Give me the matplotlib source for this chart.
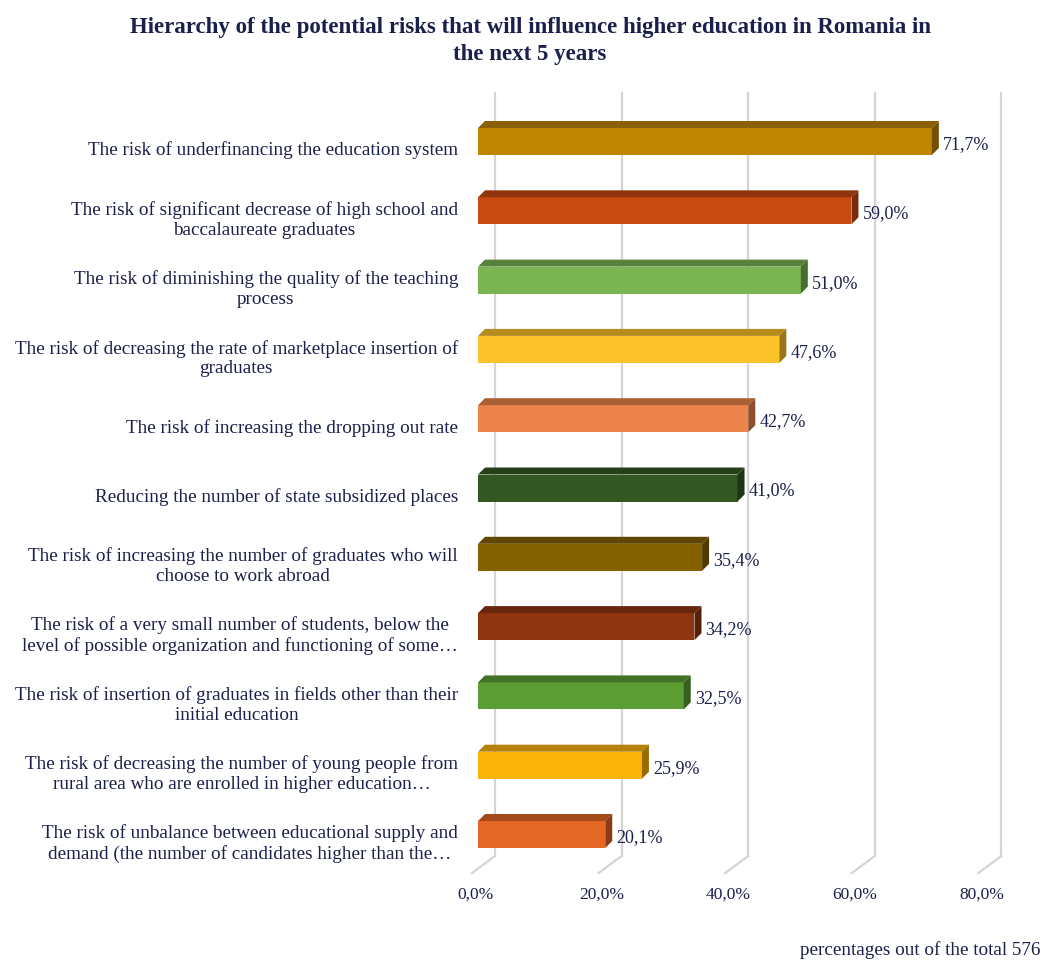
import matplotlib
matplotlib.use("Agg")
import matplotlib.pyplot as plt
from matplotlib.patches import Polygon
import numpy as np

categories = [
    "The risk of underfinancing the education system",
    "The risk of significant decrease of high school and\nbaccalaureate graduates",
    "The risk of diminishing the quality of the teaching\nprocess",
    "The risk of decreasing the rate of marketplace insertion of\ngraduates",
    "The risk of increasing the dropping out rate",
    "Reducing the number of state subsidized places",
    "The risk of increasing the number of graduates who will\nchoose to work abroad",
    "The risk of a very small number of students, below the\nlevel of possible organization and functioning of some\u2026",
    "The risk of insertion of graduates in fields other than their\ninitial education",
    "The risk of decreasing the number of young people from\nrural area who are enrolled in higher education\u2026",
    "The risk of unbalance between educational supply and\ndemand (the number of candidates higher than the\u2026",
]
values = [71.7, 59.0, 51.0, 47.6, 42.7, 41.0, 35.4, 34.2, 32.5, 25.9, 20.1]
colors = ["#C08503", "#C84A12", "#7AB552", "#FCC22A", "#EC844B", "#335722",
          "#866100", "#8F3610", "#5C9E34", "#FDB409", "#E56726"]
ticks = [0, 20, 40, 60, 80]
title = "Hierarchy of the potential risks that will influence higher education in Romania in\nthe next 5 years"
footnote = "percentages out of the total 576"

W, H = 1047, 964
fig = plt.figure(figsize=(W / 100, H / 100), dpi=100)

TXT = "#1b1f4b"
SERIF = ["Liberation Serif", "DejaVu Serif"]

# geometry in pixels
x0_px = 478.0
px_per_x = 6.33
c0_px = 141.5
px_per_y = 69.3
xmax = 83.0
ytop, ybot = -0.9, 10.9

left = x0_px / W
width = xmax * px_per_x / W
top_px = c0_px + ytop * px_per_y
bot_px = c0_px + ybot * px_per_y
ax = fig.add_axes([left, 1 - bot_px / H, width, (bot_px - top_px) / H])
ax.set_xlim(0, xmax)
ax.set_ylim(ybot, ytop)
ax.axis("off")

def dx(px):
    return px / px_per_x

def dy(px):
    return px / px_per_y

# back wall gridlines and floor lines
g_top = dy(93 - c0_px)
g_bot = dy(856 - c0_px)
f_front = dy(873 - c0_px)
for t in ticks:
    xb = t + dx(17)
    xf = t - dx(6)
    ax.plot([xb, xb], [g_top, g_bot], color="#d4d4d4", lw=1.6, clip_on=False, zorder=1)
    ax.plot([xb, xf], [g_bot, f_front], color="#d4d4d4", lw=1.6, clip_on=False, zorder=1)
    ax.text(t - dx(3), dy(895 - c0_px), f"{t:.1f}%".replace(".", ","),
            ha="center", va="center", fontsize=12.5, family=SERIF, color=TXT)

def shade(c, f):
    r, g, b = matplotlib.colors.to_rgb(c)
    return (r * f, g * f, b * f)

bh = dy(27)
DX, DY = dx(7), dy(7)
y = np.arange(len(values))
ax.barh(y, values, height=bh, color=colors, edgecolor="none", zorder=3)
for i, (v, c) in enumerate(zip(values, colors)):
    yt = i - bh / 2
    yb = i + bh / 2
    topf = Polygon([(0, yt), (v, yt), (v + DX, yt - DY), (DX, yt - DY)],
                   closed=True, facecolor=shade(c, 0.72), edgecolor="none", zorder=3)
    side = Polygon([(v, yt), (v + DX, yt - DY), (v + DX, yb - DY), (v, yb)],
                   closed=True, facecolor=shade(c, 0.6), edgecolor="none", zorder=3)
    ax.add_patch(topf)
    ax.add_patch(side)
    ax.text(v + DX + dx(4), i + dy(3), f"{v:.1f}%".replace(".", ","),
            ha="left", va="center", fontsize=13, family=SERIF, color=TXT)
    ax.text(dx(458 - x0_px), i + dy(9), categories[i], ha="right", va="center",
            multialignment="center", fontsize=13.8, family=SERIF, color=TXT,
            linespacing=1.2, clip_on=False)

fig.text(530 / W, 1 - 41 / H, title, ha="center", va="center", fontsize=16.5,
         fontweight="bold", family=SERIF, color=TXT, linespacing=1.35)
fig.text(800 / W, 1 - 950 / H, footnote, ha="left", va="center", fontsize=13.8,
         family=SERIF, color=TXT)

fig.savefig("out.png", dpi=100)
